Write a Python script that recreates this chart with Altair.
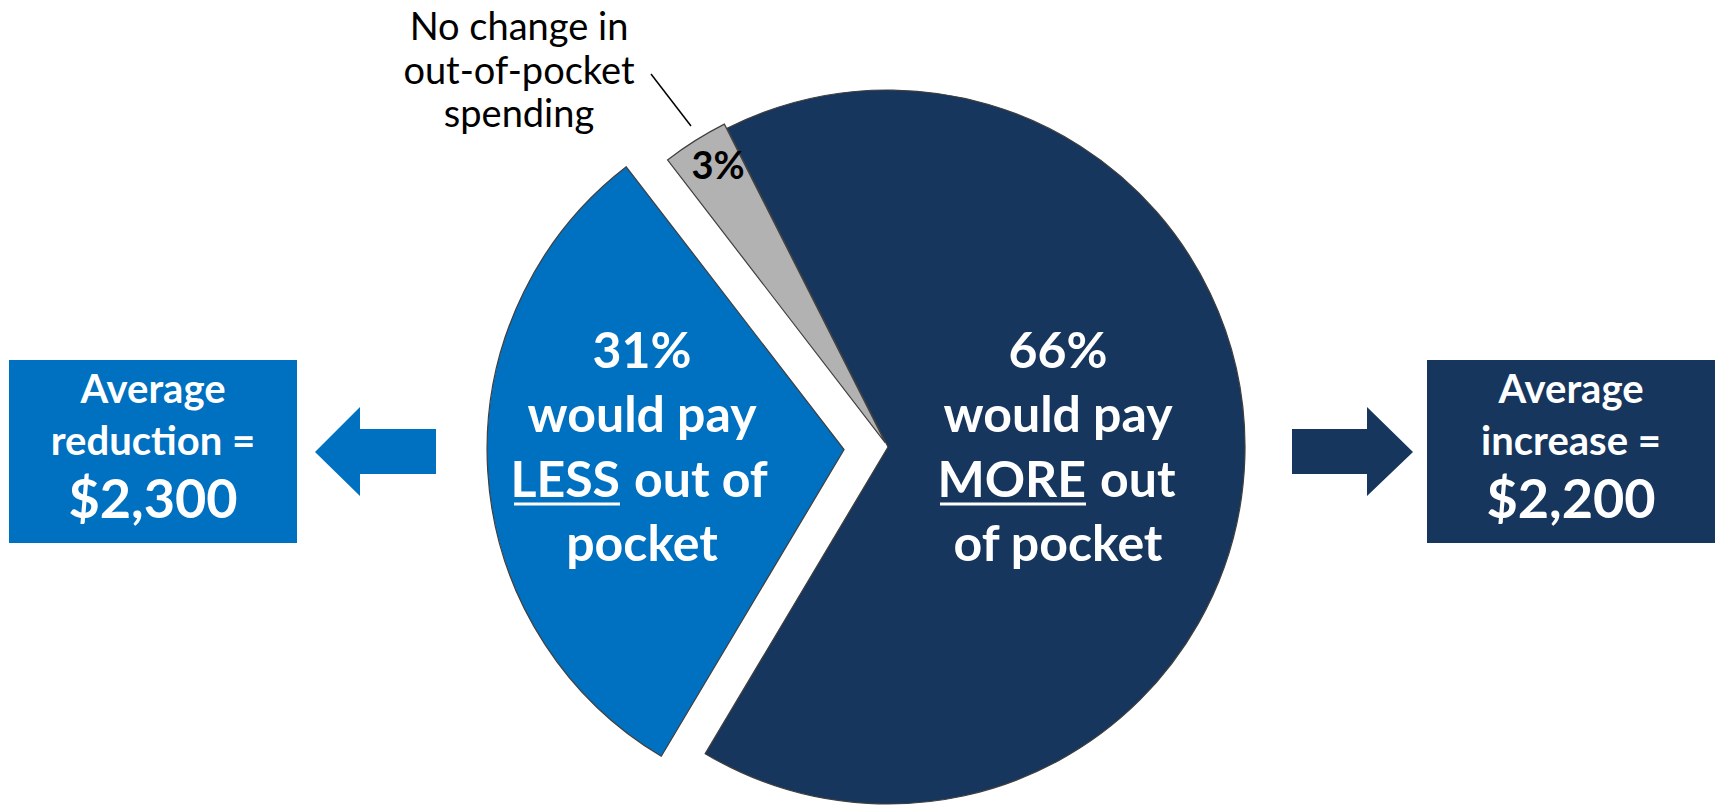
import math
import altair as alt
import pandas as pd

# ---------------- data ----------------
groups = ["Would pay MORE out of pocket", "Would pay LESS out of pocket", "No change in out-of-pocket spending"]
shares = [66, 31, 3]
slice_colors = ["#17365D", "#0070C0", "#B2B2B2"]

more_lines = ["66%", "would pay", "MORE", "out", "of pocket"]
less_lines = ["31%", "would pay", "LESS", "out of", "pocket"]
nochange_label = "3%"
nochange_note = ["No change in", "out-of-pocket", "spending"]

left_box_lines = ["Average", "reduction =", "$2,300"]
right_box_lines = ["Average", "increase =", "$2,200"]

# ---------------- layout ----------------
W, H = 1717, 806
CX, CY, R = 888, 447, 357
START_DEG = 333.2
explode = [0, 44, 5]
FONT = "Lato"

a0 = math.radians(START_DEG)
total = sum(shares)

df = pd.DataFrame({"group": groups, "share": shares, "idx": list(range(len(groups)))})

theta_scale = alt.Scale(domain=[0, total], range=[a0, a0 + 2 * math.pi])
color_scale = alt.Scale(domain=groups, range=slice_colors)

layers = []
cum = 0
for g, s, d in zip(groups, shares, explode):
    mid = a0 + (cum + s / 2) / total * 2 * math.pi
    cx = CX + math.sin(mid) * d
    cy = CY - math.cos(mid) * d
    cum += s
    arc = (
        alt.Chart(df)
        .transform_window(end="sum(share)", sort=[alt.SortField("idx")])
        .transform_calculate(start="datum.end - datum.share")
        .transform_filter(alt.datum.group == g)
        .mark_arc(radius=R, stroke="#3F3F3F", strokeWidth=1.2)
        .encode(
            theta=alt.Theta("start:Q", scale=theta_scale, stack=False),
            theta2="end:Q",
            color=alt.Color("group:N", scale=color_scale, legend=None),
            x=alt.value(cx),
            y=alt.value(cy),
        )
    )
    layers.append(arc)

dummy = pd.DataFrame({"k": [0]})


def txt(s, x, y, size, color="white", weight="bold", align="center"):
    return (
        alt.Chart(dummy)
        .mark_text(font=FONT, fontSize=size, fontWeight=weight, color=color,
                   align=align, baseline="alphabetic")
        .encode(x=alt.value(x), y=alt.value(y), text=alt.value(s))
    )


def rule(x1, y1, x2, y2, color, width):
    return (
        alt.Chart(dummy)
        .mark_rule(color=color, strokeWidth=width)
        .encode(x=alt.value(x1), y=alt.value(y1), x2=alt.value(x2), y2=alt.value(y2))
    )


def rect(x1, y1, x2, y2, color):
    return (
        alt.Chart(dummy)
        .mark_rect(color=color)
        .encode(x=alt.value(x1), y=alt.value(y1), x2=alt.value(x2), y2=alt.value(y2))
    )


def arrow(path, x, y, color):
    return (
        alt.Chart(dummy)
        .mark_point(shape=path, size=4, filled=True, opacity=1, strokeWidth=0, color=color)
        .encode(x=alt.value(x), y=alt.value(y))
    )


SL = 50  # slice label font size
ys = [368, 432, 497, 561]

# Right (MORE) slice text
layers += [
    txt(more_lines[0], 1058, ys[0], SL),
    txt(more_lines[1], 1058, ys[1], SL),
    txt(more_lines[2], 1086, ys[2], SL, align="right"),
    txt(more_lines[3], 1100, ys[2], SL, align="left"),
    txt(more_lines[4], 1058, ys[3], SL),
    rule(940, 504, 1086, 504, "white", 3),
]
# Left (LESS) slice text
layers += [
    txt(less_lines[0], 642, ys[0], SL),
    txt(less_lines[1], 642, ys[1], SL),
    txt(less_lines[2], 620, ys[2], SL, align="right"),
    txt(less_lines[3], 634, ys[2], SL, align="left"),
    txt(less_lines[4], 642, ys[3], SL),
    rule(514, 504, 620, 504, "white", 3),
]
# 3% slice
layers += [txt(nochange_label, 718, 179, 38, color="black")]
# annotation
layers += [
    txt(nochange_note[0], 519, 40, 38, color="black", weight="normal"),
    txt(nochange_note[1], 519, 84, 38, color="black", weight="normal"),
    txt(nochange_note[2], 519, 127, 38, color="black", weight="normal"),
    rule(651, 74, 691, 126, "black", 1.5),
]

# Boxes
BX = 40
BIG = 54
layers += [
    rect(9, 360, 297, 543, "#0070C0"),
    txt(left_box_lines[0], 153, 403, BX),
    txt(left_box_lines[1], 153, 455, BX),
    txt(left_box_lines[2], 153, 518, BIG),
    rect(1427, 360, 1715, 543, "#17365D"),
    txt(right_box_lines[0], 1571, 403, BX),
    txt(right_box_lines[1], 1571, 455, BX),
    txt(right_box_lines[2], 1571, 518, BIG),
]

# Arrows (pixel-unit paths, size=4 -> scale 1)
left_path = "M -60 0 L -15 -45 L -15 -23 L 61 -23 L 61 22 L -15 22 L -15 44 Z"
right_path = "M -60 -23 L 15 -23 L 15 -45 L 61 0 L 15 44 L 15 22 L -60 22 Z"
layers += [
    arrow(left_path, 375, 452, "#0070C0"),
    arrow(right_path, 1352, 452, "#17365D"),
]

chart = (
    alt.layer(*layers)
    .properties(width=W, height=H, padding=0, autosize=alt.AutoSizeParams(type="none"))
    .configure_view(stroke=None)
)

chart.save("out.html", embed_options={"renderer": "svg", "actions": False})
